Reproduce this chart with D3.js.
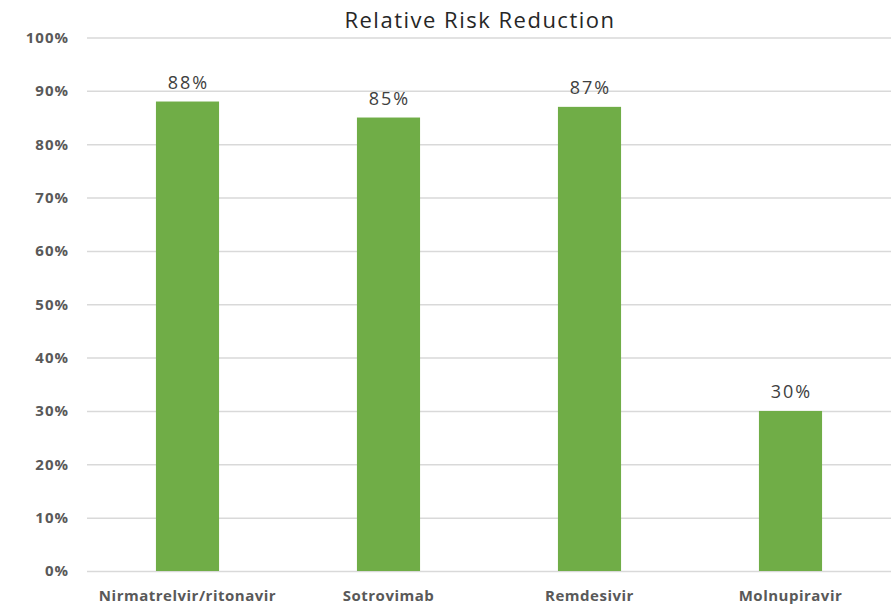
<!DOCTYPE html>
<html><head><meta charset="utf-8">
<script src="https://cdn.jsdelivr.net/npm/d3@7"></script>
<style>body{margin:0;background:#fff}svg{display:block}text{font-family:"Open Sans",sans-serif}</style>
</head><body><svg id="c" width="891" height="605"></svg>
<script>
const categories = ["Nirmatrelvir/ritonavir","Sotrovimab","Remdesivir","Molnupiravir"];
const values = [88,85,87,30];
const yTicks = [0,10,20,30,40,50,60,70,80,90,100];
const title = "Relative Risk Reduction";

const svg = d3.select("#c");
const m = {l:87, r:0, t:37.5, b:34};
const W = 891, H = 605;
const x = d3.scaleBand().domain(categories).range([m.l, W-m.r]).paddingInner(0.686).paddingOuter(0.343);
const y = d3.scaleLinear().domain([0,100]).range([571, 37.5]);

const yAxis = d3.axisLeft(y).tickValues(yTicks).tickSize(-(W-m.r-m.l)).tickPadding(18).tickFormat(d=>d+"%");
const gy = svg.append("g").attr("transform",`translate(${m.l},0)`).call(yAxis);
gy.select(".domain").remove();
gy.selectAll(".tick line").attr("stroke","#d9d9d9").attr("stroke-width",1.5);
gy.selectAll(".tick text").attr("fill","#595959").attr("font-size",15).attr("font-weight","bold").attr("letter-spacing",1);

svg.append("g").selectAll("text").data(values).join("text")
  .attr("x",(d,i)=>x(categories[i])+x.bandwidth()/2+1).attr("y",d=>y(d)-13)
  .attr("text-anchor","middle").attr("fill","#404040").attr("font-size",18).attr("letter-spacing",2).text(d=>d+"%");

svg.append("g").selectAll("rect").data(values).join("rect")
  .attr("x",(d,i)=>x(categories[i])).attr("width",x.bandwidth())
  .attr("y",d=>y(d)).attr("height",d=>y(0)-y(d)).attr("fill","#70ad47");

const xAxis = d3.axisBottom(x).tickSize(0).tickPadding(19);
const gx = svg.append("g").attr("transform",`translate(0,${y(0)})`).call(xAxis);
gx.select(".domain").remove();
gx.selectAll(".tick text").attr("fill","#595959").attr("font-size",15).attr("font-weight","bold").attr("letter-spacing",0.5);

svg.append("text").attr("x",480).attr("y",28).attr("text-anchor","middle")
  .attr("fill","#262626").attr("font-size",22).attr("letter-spacing",1.5).text(title);
</script></body></html>
